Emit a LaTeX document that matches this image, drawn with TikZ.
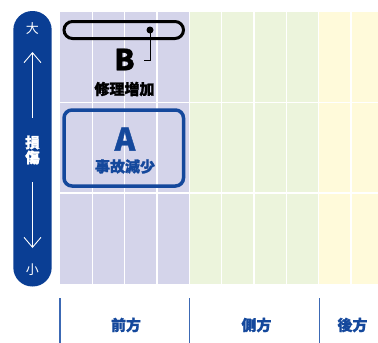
\documentclass[tikz,border=0pt]{standalone}
\usepackage{fontspec}
\setmainfont{Noto Sans CJK JP}[BoldFeatures={FakeBold=1.3}]
\usetikzlibrary{arrows.meta}
\definecolor{barblue}{RGB}{10,62,148}
\definecolor{boxblue}{RGB}{20,72,156}
\definecolor{sepblue}{RGB}{60,105,180}
\definecolor{lav}{RGB}{212,212,234}
\definecolor{lgreen}{RGB}{236,244,220}
\definecolor{lyellow}{RGB}{255,250,218}
\tikzset{
  gridline/.style={white,line width=1.5pt},
  barlabel/.style={white,font=\fontsize{13}{13}\selectfont},
  barlabelb/.style={white,font=\bfseries\fontsize{14.5}{15}\selectfont,align=center},
  barrow/.style={white,line width=0.9pt,-{Straight Barb[length=10pt,width=17pt,line width=0.9pt]}},
  sepline/.style={sepblue,line width=1.3pt},
  dirlabel/.style={boxblue,font=\bfseries\fontsize{15}{15}\selectfont},
}
\begin{document}
\begin{tikzpicture}[x=1pt,y=-1pt]
\useasboundingbox (0,0) rectangle (378,343);
% grid background
\fill[lav] (60,12) rectangle (189.3,283.5);
\fill[lgreen] (189.3,12) rectangle (318.7,283.5);
\fill[lyellow] (318.7,12) rectangle (378,283.5);
\foreach \x in {92.3,124.7,157,189.3,221.7,254,286.3,318.7,351}
  \draw[gridline] (\x,12) -- (\x,283.5);
\foreach \y in {102.5,193}
  \draw[gridline] (60,\y) -- (378,\y);
% left bar
\fill[barblue,rounded corners=19pt] (13.3,11) rectangle (51.7,286.5);
\node[barlabel] (big) at (32.5,28.5) {大};
\node[barlabelb] (dmg) at (32.5,150) {損\\傷};
\node[barlabel] (small) at (32.5,270) {小};
\coordinate (upS) at (32.5,118);
\coordinate (upE) at (32.5,52);
\coordinate (dnS) at (32.5,182);
\coordinate (dnE) at (32.5,248);
\draw[barrow] (upS) -- (upE);
\draw[barrow] (dnS) -- (dnE);
% B box
\draw[black,line width=3pt,rounded corners=8.5pt] (64,21.5) rectangle (183.5,38.5);
\node[circle,fill=black,inner sep=0pt,minimum size=7pt] (dot) at (150,30) {};
\coordinate (bk) at (150,60.7);
\coordinate (bend) at (144.3,60.7);
\draw[black,line width=1pt] (dot.center) -- (bk) -- (bend);
\node[font=\bfseries\fontsize{29}{29}\selectfont] (B) at (124.5,59.5) {B};
\node[font=\bfseries\fontsize{15}{15}\selectfont] (Bt) at (124.5,89) {修理増加};
% A box
\draw[boxblue,line width=3.5pt,rounded corners=8pt] (64,110) rectangle (183.5,186);
\node[boxblue,font=\bfseries\fontsize{31}{31}\selectfont] (A) at (125,139) {A};
\node[boxblue,font=\bfseries\fontsize{15}{15}\selectfont] (At) at (125,166.5) {事故減少};
% bottom separators
\foreach \x/\n in {60/s1,189.5/s2,319.5/s3}{
  \coordinate (\n t) at (\x,298);
  \coordinate (\n b) at (\x,343);
  \draw[sepline] (\n t) -- (\n b);
}
\node[dirlabel] (fr) at (126,325) {前方};
\node[dirlabel] (sd) at (256.5,325) {側方};
\node[dirlabel] (bk2) at (352.5,325) {後方};
\end{tikzpicture}
\end{document}
